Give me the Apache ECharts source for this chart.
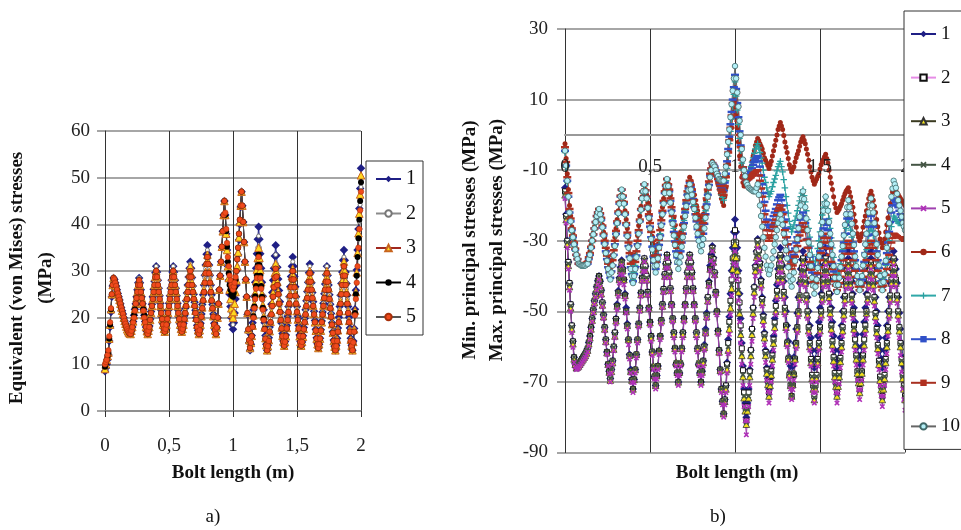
<!DOCTYPE html>
<html><head><meta charset="utf-8">
<script src="https://cdn.jsdelivr.net/npm/echarts/dist/echarts.min.js"></script>
<style>html,body{margin:0;padding:0;background:#fff}#c{width:961px;height:530px}</style>
</head><body><div id="c"></div>
<script>
// sample positions along the bolt (m)
const xs = [0,.0067,.0133,.02,.0267,.0333,.04,.0467,.0533,.06,.0667,.0733,.08,.0867,.0933,.1,.1067,.1133,.12,.1267,.1333,.14,.1467,.1533,.16,.1667,.1733,.18,.1867,.1933,
.2,.2067,.2133,.22,.2267,.2333,.24,.2467,.2533,.26,.2667,.2733,.28,.2867,.2933,.3,.3067,.3133,.32,.3267,.3333,.34,.3467,.3533,.36,.3667,.3733,.38,.3867,.3933,
.4,.4067,.4133,.42,.4267,.4333,.44,.4467,.4533,.46,.4667,.4733,.48,.4867,.4933,.5,.5067,.5133,.52,.5267,.5333,.54,.5467,.5533,.56,.5667,.5733,.58,.5867,.5933,
.6,.6067,.6133,.62,.6267,.6333,.64,.6467,.6533,.66,.6667,.6733,.68,.6867,.6933,.7,.7067,.7133,.72,.7267,.7333,.74,.7467,.7533,.76,.7667,.7733,.78,.7867,.7933,
.8,.8067,.8133,.82,.8267,.8333,.84,.8467,.8533,.86,.8667,.8733,.88,.8867,.8933,.9,.9067,.9133,.92,.9267,.9333,.94,.9467,.9533,.96,.9667,.9733,.98,.9867,.9933,
1,1.0067,1.0133,1.02,1.0267,1.0333,1.04,1.0467,1.0533,1.06,1.0667,1.0733,1.08,1.0867,1.0933,1.1,1.1067,1.1133,1.12,1.1267,1.1333,1.14,1.1467,1.1533,1.16,1.1667,1.1733,1.18,1.1867,1.1933,
1.2,1.2067,1.2133,1.22,1.2267,1.2333,1.24,1.2467,1.2533,1.26,1.2667,1.2733,1.28,1.2867,1.2933,1.3,1.3067,1.3133,1.32,1.3267,1.3333,1.34,1.3467,1.3533,1.36,1.3667,1.3733,1.38,1.3867,1.3933,
1.4,1.4067,1.4133,1.42,1.4267,1.4333,1.44,1.4467,1.4533,1.46,1.4667,1.4733,1.48,1.4867,1.4933,1.5,1.5067,1.5133,1.52,1.5267,1.5333,1.54,1.5467,1.5533,1.56,1.5667,1.5733,1.58,1.5867,1.5933,
1.6,1.6067,1.6133,1.62,1.6267,1.6333,1.64,1.6467,1.6533,1.66,1.6667,1.6733,1.68,1.6867,1.6933,1.7,1.7067,1.7133,1.72,1.7267,1.7333,1.74,1.7467,1.7533,1.76,1.7667,1.7733,1.78,1.7867,1.7933,
1.8,1.8067,1.8133,1.82,1.8267,1.8333,1.84,1.8467,1.8533,1.86,1.8667,1.8733,1.88,1.8867,1.8933,1.9,1.9067,1.9133,1.92,1.9267,1.9333,1.94,1.9467,1.9533,1.96,1.9667,1.9733,1.98,1.9867,1.9933,
2];

const xTicks = [0, 0.5, 1, 1.5, 2];
const xTickLabels = ['0','0,5','1','1,5','2'];
const leftNames = ['1','2','3','4','5'];
const rightNames = ['1','2','3','4','5','6','7','8','9','10'];

// a) Equivalent (von Mises) stresses, MPa
const L1 = [8.5,9.2,10,11,12,15,18,21.2,24.5,26.8,28.5,28.2,27.5,26.8,26,25.2,24.5,23.8,23,22.2,21.5,20.8,20,19.3,18.7,18.1,17.5,17.1,16.8,16.6,16.5,
17.2,18,19.2,20.5,21.8,23,24.5,26,27.5,28.5, 27.5,26,24.5,23,21.8,20.5,19.2,18,17.1,16.5,
17.2,18.2,19.7,21.3,22.9,24.5,26.1,27.8,29.6,31, 29.8,28,26.3,24.7,23.1,21.6,20.1,18.7,17.7,17,
17.7,18.7,20.1,21.6,23.1,24.7,26.3,28,29.8,31, 29.8,28,26.3,24.7,23.1,21.6,20.1,18.7,17.7,17,
17.7,18.8,20.4,22,23.6,25.3,27,28.7,30.6,32, 30.6,28.6,26.8,25,23.3,21.6,20,18.4,17.3,16.5,
17.4,18.8,20.8,22.8,24.9,27,29.1,31.3,33.6,35.5, 33.6,31.3,29.1,27,24.9,22.8,20.8,18.8,17.4,16.5,
17.9,20,23,26,29,32,35.2,38.5,42,45, 42,38,34.5,31,28,25,22.4,20,18.5,17.5,
18.9,21,24,27,30.2,33.5,36.7,40,43.7,47, 44,40.5,36.2,32,28.2,24.5,20.7,17,14.6,13,
14.3,16.2,18.9,21.7,24.6,27.6,30.6,33.7,36.8,39.5, 36.8,33.7,30.6,27.6,24.6,21.7,18.9,16.2,14.3,13,
14.1,15.7,18,20.4,22.9,25.4,28,30.6,33.2,35.5, 33.3,30.8,28.3,25.8,23.4,21.1,18.8,16.6,15,14,
14.9,16.3,18.3,20.3,22.4,24.5,26.6,28.8,31,33, 31,28.8,26.6,24.5,22.4,20.3,18.3,16.3,14.9,14,
14.8,16.1,17.9,19.8,21.7,23.6,25.6,27.6,29.6,31.5, 29.6,27.5,25.4,23.4,21.4,19.4,17.5,15.7,14.4,13.5,
14.3,15.6,17.4,19.3,21.2,23.1,25.1,27.2,29.2,31, 29.1,27,24.9,22.9,20.9,18.9,17,15.2,13.9,13,
14.1,15.6,17.8,20.1,22.4,24.8,27.3,29.8,32.3,34.5, 32.3,29.8,27.3,24.8,22.4,20.1,17.8,15.6,14.1,13,
15,17.7,21.8,25.9,30.2,34.5,39,43.4,47.7,52];
const L2 = [9,9.7,10.5,11.5,12.5,15.5,18.5,21.8,25,27,28.5,28.2,27.5,26.8,26,25.2,24.5,23.8,23,22.2,21.5,20.8,20,19.3,18.7,18.1,17.5,17.1,16.8,16.6,16.5,
17.2,18,19.2,20.5,21.8,23,24.5,26,27.5,28.5, 27.5,26,24.5,23,21.8,20.5,19.2,18,17.1,16.5,
17.2,18.2,19.7,21.3,22.9,24.5,26.1,27.8,29.6,31, 29.8,28,26.3,24.7,23.1,21.6,20.1,18.7,17.7,17,
17.7,18.7,20.1,21.6,23.1,24.7,26.3,28,29.8,31, 29.8,28,26.3,24.7,23.1,21.6,20.1,18.7,17.7,17,
17.7,18.7,20.2,21.8,23.4,25,26.6,28.3,30.1,31.5, 30.1,28.2,26.5,24.8,23.1,21.5,19.9,18.3,17.3,16.5,
17.4,18.7,20.6,22.6,24.5,26.5,28.5,30.5,32.7,34.5, 32.7,30.5,28.5,26.5,24.5,22.6,20.6,18.7,17.4,16.5,
17.9,20,23,26,29,32,35.2,38.5,42,45, 42,38,34.5,31,28.2,25.5,23.2,21,19.5,18.5,
19.9,22,25,28,31,34,37.2,40.5,44,47, 44,40.5,36.2,32,28.2,24.5,20.7,17,14.6,13,
14.2,15.9,18.4,21,23.7,26.5,29.2,32,35,37.5, 35,32,29.2,26.5,23.7,21,18.4,15.9,14.2,13,
14,15.5,17.6,19.8,22,24.3,26.5,28.8,31.3,33.5, 31.5,29.2,26.9,24.7,22.5,20.4,18.3,16.3,14.9,14,
14.9,16.2,18,19.9,21.9,23.9,25.9,27.9,30.1,32, 30.1,27.9,25.9,23.9,21.9,19.9,18,16.2,14.9,14,
14.8,16,17.8,19.6,21.5,23.4,25.3,27.3,29.3,31, 29.2,27.2,25.1,23.1,21.2,19.3,17.4,15.6,14.4,13.5,
14.3,15.6,17.4,19.3,21.2,23.1,25.1,27.2,29.2,31, 29.1,27,24.9,22.9,20.9,18.9,17,15.2,13.9,13,
14,15.4,17.5,19.6,21.8,24,26.2,28.5,30.8,33, 30.8,28.5,26.2,24,21.8,19.6,17.5,15.4,14,13,
14.8,17.5,21.2,25,29,33,36.8,40.5,44.2,48];
const L3 = [9,10,11,11.8,12.5,15.5,18.5,21.8,25,27,28.5,28.2,27.5,26.8,26,25.2,24.5,23.8,23,22.2,21.5,20.8,20,19.3,18.7,18.1,17.5,17.1,16.8,16.6,16.5,
17.2,18,19.2,20.5,21.8,23,24.2,25.5,27,28, 27,25.5,24.2,23,21.8,20.5,19.2,18,17.1,16.5,
17.2,18,19.5,21,22.5,24,25.5,27,28.7,30, 28.7,27,25.5,24,22.5,21,19.7,18.5,17.6,17,
17.6,18.5,19.7,21,22.5,24,25.5,27,28.7,30, 28.7,27,25.5,24,22.5,21,19.7,18.5,17.6,17,
17.6,18.5,20,21.5,23,24.5,26,27.5,29.4,31, 29.4,27.5,26,24.5,23,21.5,20,18.5,17.3,16.5,
17.3,18.5,20.3,22.2,24.1,26,27.9,29.8,31.8,33.5, 31.8,29.8,27.9,26,24.1,22.2,20.3,18.5,17.3,16.5,
17.9,20,23,26,29,32,35.2,38.5,42,45, 42,38,34.5,31,28.5,26,24,22,20.8,20,
21.2,23,25.5,28,31,34,37.2,40.5,44,47, 44,40.5,36.2,32,28.2,24.5,21,17.5,15.2,13.5,
14.6,16.1,18.3,20.5,22.9,25.3,27.8,30.3,32.8,35, 32.8,30.2,27.6,25.1,22.7,20.3,17.9,15.6,14.1,13,
13.9,15.2,17.1,19.1,21.1,23.2,25.3,27.4,29.6,31.5, 29.8,27.7,25.6,23.6,21.7,19.8,17.9,16.1,14.9,14,
14.8,16,17.8,19.6,21.4,23.3,25.1,26.9,28.9,30.5, 28.9,26.9,25.1,23.3,21.4,19.6,17.8,16,14.8,14,
14.8,15.9,17.6,19.3,21,22.8,24.6,26.5,28.4,30, 28.4,26.4,24.5,22.6,20.8,19,17.2,15.5,14.3,13.5,
14.3,15.5,17.2,19,20.8,22.6,24.5,26.4,28.4,30, 28.3,26.3,24.3,22.4,20.5,18.6,16.8,15,13.8,13,
14,15.3,17.3,19.3,21.4,23.5,25.6,27.8,30,32, 30,27.8,25.6,23.5,21.4,19.3,17.3,15.3,14,13,
14.8,17.5,21.5,25.5,29.7,33.9,38.1,42.3,46.4,50.5];
const L4 = [9.5,10.2,11,11.8,12.5,15.5,18.5,21.8,25,27,28.5,28.2,27.5,26.8,26,25.2,24.5,23.8,23,22.2,21.5,20.8,20,19.3,18.7,18.1,17.5,17.1,16.8,16.6,16.5,
17.2,18,19.2,20.5,21.8,23,24.2,25.5,27,28, 27,25.5,24.2,23,21.8,20.5,19.2,18,17.1,16.5,
17.2,18,19.5,21,22.5,24,25.5,27,28.7,30, 28.7,27,25.5,24,22.5,21,19.7,18.5,17.6,17,
17.6,18.5,19.7,21,22.5,24,25.5,27,28.7,30, 28.7,27,25.5,24,22.5,21,19.7,18.5,17.6,17,
17.6,18.5,19.7,21,22.5,24,25.5,27,28.7,30, 28.7,27,25.5,24,22.5,21,19.5,18,17.1,16.5,
17.3,18.5,20.2,22,23.7,25.5,27.5,29.5,31.5,33, 31.5,29.5,27.5,25.5,23.7,22,20.2,18.5,17.3,16.5,
17.9,20,23,26,29,32,35.2,38.5,42,45, 42,38.5,35.2,32,29.5,27,26,25,24.7,24.5,
25.3,26.5,28.2,30,32.5,35,38,41,44,47, 44,40.5,36.2,32,28.2,24.5,21,17.5,15.2,13.5,
14.6,16,18.1,20.3,22.4,24.6,26.8,29,31.3,33.5, 31.3,29,26.8,24.5,22.1,19.8,17.6,15.5,14.1,13,
13.9,15,17,19,20.7,22.5,24.5,26.5,28.5,30.5, 28.8,27,25,23,21.2,19.5,17.7,16,14.9,14,
14.8,16,17.7,19.5,21.2,23,24.7,26.5,28.2,30, 28.2,26.5,24.7,23,21.2,19.5,17.7,16,14.8,14,
14.8,16,17.5,19,20.7,22.5,24.2,26,27.7,29.5, 27.7,26,24.2,22.5,20.7,19,17.2,15.5,14.3,13.5,
14.3,15.5,17.2,19,20.7,22.5,24.2,26,27.7,29.5, 27.7,26,24,22,20.2,18.5,16.7,15,13.8,13,
13.9,15,17,19,21,23,25,27,29,31, 29,27,25,23,21,19,17,15,13.9,13,
14.7,17,21,25,29,33,37,41,45,49];
const L5 = [10,10.5,11,12,13,16,19,22,25,27,28.5,28.2,27.5,26.8,26,25.2,24.5,23.8,23,22.2,21.5,20.8,20,19.3,18.7,18.1,17.5,17.1,16.8,16.6,16.5,
17.2,18,19,20,21.5,23,24.2,25.5,27,28, 27,25.5,24.2,23,21.5,20,19,18,17.1,16.5,
17.2,18,19.5,21,22.5,24,25.5,27,28.7,30, 28.7,27,25.5,24,22.5,21,19.7,18.5,17.6,17,
17.6,18.5,19.7,21,22.5,24,25.5,27,28.7,30, 28.7,27,25.5,24,22.5,21,19.7,18.5,17.6,17,
17.6,18.5,19.7,21,22.5,24,25.5,27,28.7,30, 28.7,27,25.5,24,22.5,21,19.5,18,17.1,16.5,
17.3,18.5,20.2,22,23.7,25.5,27.5,29.5,31.5,33, 31.5,29.5,27.5,25.5,23.7,22,20.2,18.5,17.3,16.5,
17.9,20,23,26,29,32,35.2,38.5,42,45, 42.5,39,36,33,31,29,28,27,26.5,26,
26.7,27.5,28.7,30,32.5,35,38,41,44,47, 44,40.5,36.2,32,28.2,24.5,21,17.5,15.2,13.5,
14.6,16,18,20,22,24,26.2,28.5,30.8,33, 30.8,28.5,26.2,24,21.7,19.5,17.5,15.5,14.1,13,
13.9,15,17,19,20.7,22.5,24.5,26.5,28.5,30.5, 28.8,27,25,23,21.2,19.5,17.7,16,14.9,14,
14.8,16,17.7,19.5,21.2,23,24.7,26.5,28.2,30, 28.2,26.5,24.7,23,21.2,19.5,17.7,16,14.8,14,
14.8,16,17.5,19,20.7,22.5,24.2,26,27.7,29.5, 27.7,26,24.2,22.5,20.7,19,17.2,15.5,14.3,13.5,
14.3,15.5,17.2,19,20.7,22.5,24.2,26,27.7,29.5, 27.7,26,24,22,20.2,18.5,16.7,15,13.8,13,
13.9,15,17,19,21,23,25,27,29,31, 29,27,25,23,21,19,17,15,13.9,13,
14.7,17,20.5,24,27.5,31,35,39,43,47];

// b) Min. principal stresses (1-5) and Max. principal stresses (6-10), MPa
const R1 = [-15,-22.5,-30,-36,-42,-48,-54,-58.5,-63,-64.8,-65.5,-65.3,-65,-64.5,-64,-63.5,-63,-62.5,-62,-61.3,-60.5,-58.8,-57,-54.5,-52,-49.5,-47,-45,-43,-41.3,-40,
-41.5,-44,-47.5,-51,-54.5,-58,-61.5,-65,-67,-69, -66.5,-64,-60,-56,-52,-48,-44.2,-40.5,-37.5,-35.5,
-37.8,-41,-45,-49,-53.5,-58,-62.2,-66.5,-69.3,-72, -69.3,-66.5,-62.2,-58,-53.5,-49,-44.7,-40.5,-37.3,-35,
-37.2,-40,-44.5,-49,-53,-57,-61.5,-66,-68.5,-71, -68.2,-65.5,-61.2,-57,-52.5,-48,-43.7,-39.5,-36.5,-34,
-36.2,-39,-43.5,-48,-52,-56,-60.5,-65,-67.5,-70, -67.5,-65,-60.5,-56,-52,-48,-43.5,-39,-36.2,-34,
-36.2,-39,-43.5,-48,-52,-56,-60.5,-65,-67.5,-70, -67,-64,-59.5,-55,-50.5,-46,-41.5,-37,-33.8,-31.5,
-34.8,-39,-44.5,-50,-55.5,-61,-66.5,-72,-75.5,-79, -75,-71,-64.5,-58,-51.5,-45,-38.5,-32,-27.5,-24,
-27.5,-32,-38.5,-45,-52,-59,-65.5,-72,-76,-80, -76,-72,-66.5,-61,-55,-49,-43,-37,-33,-29.5,
-32.5,-36,-41,-46,-51,-56,-61,-66,-69,-72, -69,-66,-61.5,-57,-52,-47,-42.5,-38,-34.7,-32,
-34.3,-37,-41.5,-46,-50,-54,-58.5,-63,-65.5,-68, -65.5,-63,-59,-55,-50.5,-46,-42,-38,-35.3,-33,
-35.3,-38,-42,-46,-50,-54,-57.5,-61,-63.5,-66, -63.5,-61,-57,-53,-49,-45,-41,-37,-34.3,-32,
-34.3,-37,-41,-45,-49,-53,-57,-61,-63.5,-66, -63.5,-61,-57.5,-54,-50,-46,-42,-38,-35.3,-33,
-35.3,-38,-41.5,-45,-49,-53,-56.5,-60,-62.5,-65, -62.5,-60,-56.5,-53,-49,-45,-41.5,-38,-35.3,-33,
-35.3,-38,-42,-46,-50,-54,-57.5,-61,-63.5,-66, -63.5,-61,-57.5,-54,-50,-46,-42,-38,-35.3,-33,
-35.3,-38,-42,-46,-50.5,-55,-59,-63,-65.5,-68];
const R2 = [-16,-23,-30,-36,-42,-48,-54,-58.5,-63,-64.8,-65.5,-65.3,-65,-64.5,-64,-63.5,-63,-62.5,-62,-61.3,-60.5,-58.8,-57,-54.5,-52,-49.5,-47,-45,-43,-41.3,-40,
-41.5,-44,-47.5,-51,-54.5,-58,-61.5,-65,-67,-69, -66.5,-64,-60,-56,-52.2,-48.5,-44.7,-41,-38.2,-36,
-38.2,-41,-45.5,-50,-54,-58,-62.5,-67,-69.5,-72, -69.3,-66.5,-62.2,-58,-53.5,-49,-44.7,-40.5,-37.3,-35,
-37.2,-40,-44.5,-49,-53,-57,-61.5,-66,-68.5,-71, -68.2,-65.5,-61.2,-57,-52.5,-48,-43.7,-39.5,-36.5,-34,
-36.2,-39,-43.5,-48,-52,-56,-60.5,-65,-67.5,-70, -67.5,-65,-60.5,-56,-52,-48,-43.5,-39,-36.2,-34,
-36.2,-39,-43.5,-48,-52,-56,-60.5,-65,-67.5,-70, -67,-64,-60,-56,-51,-46,-42,-38,-34.8,-32,
-35.2,-39,-44.5,-50,-55.5,-61,-66.5,-72,-75.5,-79, -75,-71,-65,-59,-53,-47,-41,-35,-30.5,-27,
-30.5,-35,-41.2,-47.5,-54,-60.5,-66.7,-73,-77,-81, -77,-73,-67,-61,-55,-49,-43.2,-37.5,-33.3,-30,
-32.8,-36.5,-41.5,-46.5,-51.5,-56.5,-61.5,-66.5,-69.7,-73, -70,-67,-62.5,-58,-53.2,-48.5,-44.2,-40,-36.7,-34,
-36.7,-40,-44.5,-49,-54,-59,-63.5,-68,-71,-74, -71,-68,-63.5,-59,-54.5,-50,-45.5,-41,-37.7,-35,
-37.7,-41,-45.5,-50,-54.5,-59,-63.5,-68,-71,-74, -71,-68,-63.5,-59,-54.5,-50,-45.5,-41,-37.7,-35,
-37.5,-40.5,-45,-49.5,-54,-58.5,-63,-67.5,-70.2,-73, -70.2,-67.5,-63.2,-59,-54.5,-50,-45.7,-41.5,-38.5,-36,
-38.2,-41,-45.5,-50,-54,-58,-62.5,-67,-69.5,-72, -69.5,-67,-62.5,-58,-54,-50,-45.5,-41,-38.2,-36,
-38.5,-41.5,-46,-50.5,-55,-59.5,-64,-68.5,-71.2,-74, -71,-68,-63.5,-59,-54.5,-50,-45.5,-41,-37.7,-35,
-37.7,-41,-45.5,-50,-54.5,-59,-63.5,-68,-71,-74];
const R3 = [-17,-24,-31,-37,-43,-49,-55,-59.2,-63.5,-65,-66,-65.8,-65.5,-65,-64.5,-64,-63.5,-63,-62.5,-61.8,-61,-59.2,-57.5,-55,-52.5,-50,-47.5,-45.5,-43.5,-42,-40.5,
-42.7,-45,-48.2,-51.5,-55,-58.5,-61.7,-65,-67.2,-69.5, -67,-64.5,-60.7,-57,-52.7,-48.5,-44.7,-41,-38.5,-36,
-38.5,-41,-45.5,-50,-54,-58,-62.5,-67,-69.5,-72, -69.3,-66.5,-62.2,-58,-53.7,-49.5,-45.2,-41,-38.2,-35.5,
-38.2,-41,-45,-49,-53.2,-57.5,-61.5,-65.5,-68.2,-71, -68.2,-65.5,-61.2,-57,-52.7,-48.5,-44.2,-40,-37.2,-34.5,
-37.2,-40,-44,-48,-52.2,-56.5,-60.5,-64.5,-67.2,-70, -67.2,-64.5,-60.5,-56.5,-52.2,-48,-44,-40,-37.2,-34.5,
-37.2,-40,-44,-48,-52.2,-56.5,-60.5,-64.5,-67.2,-70, -67.2,-64.5,-60.2,-56,-51.5,-47,-42.5,-38,-35.2,-32.5,
-36,-39.5,-44.7,-50,-55.7,-61.5,-66.7,-72,-75.5,-79, -75.5,-72,-66.5,-61,-55,-49,-43.5,-38,-34.5,-31,
-34.7,-38.5,-44.5,-50.5,-56.5,-62.5,-68.5,-74.5,-78.2,-82, -78.2,-74.5,-68.5,-62.5,-56.5,-50.5,-44.5,-38.5,-34.7,-31,
-34.2,-37.5,-42.5,-47.5,-52.5,-57.5,-62.5,-67.5,-70.7,-74, -71,-68,-63.5,-59,-54.5,-50,-45.5,-41,-38,-35,
-38,-41,-45.5,-50,-54.5,-59,-63.5,-68,-71,-74, -70.7,-67.5,-63.5,-59.5,-55,-50.5,-46,-41.5,-38.7,-36,
-39,-42,-46.5,-51,-55.5,-60,-64.5,-69,-72,-75, -72,-69,-64.5,-60,-55.5,-51,-46.5,-42,-39,-36,
-38.7,-41.5,-46,-50.5,-55,-59.5,-64,-68.5,-71.2,-74, -71.2,-68.5,-64.2,-60,-55.5,-51,-46.7,-42.5,-39.7,-37,
-39.7,-42.5,-46.5,-50.5,-55,-59.5,-63.5,-67.5,-70.2,-73, -70.2,-67.5,-63.5,-59.5,-55,-50.5,-46.5,-42.5,-39.7,-37,
-39.7,-42.5,-47,-51.5,-56,-60.5,-65,-69.5,-72.2,-75, -72,-69,-64.5,-60,-55.5,-51,-46.5,-42,-39,-36,
-39,-42,-46.5,-51,-55.5,-60,-64.5,-69,-72,-75];
const R4 = [-16.5,-23.5,-30.5,-36.5,-42.5,-48.5,-54.5,-58.7,-63,-64.3,-65.5,-65.3,-65,-64.5,-64,-63.5,-63,-62.5,-62,-61.3,-60.5,-58.8,-57,-54.5,-52,-49.5,-47,-45,-43,-41.5,-40,
-42.2,-44.5,-47.7,-51,-54.5,-58,-61.5,-65,-67,-69, -66.5,-64,-60.2,-56.5,-52.5,-48.5,-44.7,-41,-38.5,-36,
-38.5,-41,-45.5,-50,-54,-58,-62.5,-67,-69.5,-72, -69.3,-66.5,-62.2,-58,-53.5,-49,-44.7,-40.5,-38,-35.5,
-38,-40.5,-44.7,-49,-53,-57,-61.2,-65.5,-68.2,-71, -68.2,-65.5,-61.2,-57,-52.5,-48,-44,-40,-37.2,-34.5,
-37,-39.5,-43.7,-48,-52,-56,-60.2,-64.5,-67.2,-70, -67.2,-64.5,-60.2,-56,-52,-48,-43.7,-39.5,-37,-34.5,
-37,-39.5,-43.7,-48,-52,-56,-60.2,-64.5,-67.2,-70, -67,-64,-59.7,-55.5,-51,-46.5,-42.2,-38,-35.2,-32.5,
-36,-39.5,-44.7,-50,-55.5,-61,-66.5,-72,-75.5,-79, -75.2,-71.5,-65.7,-60,-54,-48,-42.5,-37,-33.5,-30,
-34,-38,-44,-50,-56,-62,-68,-74,-77.7,-81.5, -77.7,-74,-68,-62,-56,-50,-44,-38,-34.2,-30.5,
-33.7,-37,-42,-47,-52,-57,-62,-67,-70.2,-73.5, -70.5,-67.5,-63,-58.5,-54,-49.5,-45,-40.5,-37.5,-34.5,
-37.5,-40.5,-45,-49.5,-54,-58.5,-63,-67.5,-70.7,-74, -70.7,-67.5,-63.2,-59,-54.5,-50,-45.7,-41.5,-38.5,-35.5,
-38.5,-41.5,-46,-50.5,-55,-59.5,-64,-68.5,-71.5,-74.5, -71.5,-68.5,-64,-59.5,-55,-50.5,-46,-41.5,-38.5,-35.5,
-38.5,-41.5,-45.7,-50,-54.5,-59,-63.5,-68,-70.7,-73.5, -70.7,-68,-63.7,-59.5,-55,-50.5,-46.2,-42,-39.2,-36.5,
-39.2,-42,-46.2,-50.5,-54.7,-59,-63,-67,-69.7,-72.5, -69.7,-67,-63,-59,-54.7,-50.5,-46.2,-42,-39.2,-36.5,
-39.2,-42,-46.5,-51,-55.5,-60,-64.5,-69,-71.7,-74.5, -71.5,-68.5,-64,-59.5,-55,-50.5,-46,-41.5,-38.5,-35.5,
-38.5,-41.5,-46,-50.5,-55,-59.5,-64,-68.5,-71.5,-74.5];
const R5 = [-18,-25,-32,-38,-44,-50,-56,-60.2,-64.5,-65.8,-66.5,-66.3,-66,-65.5,-65,-64.5,-64,-63.5,-63,-62.3,-61.5,-59.8,-58,-55.5,-53,-50.5,-48,-46,-44,-42.5,-41,
-43.2,-45.5,-48.7,-52,-55.5,-59,-62.2,-65.5,-67.7,-70, -67.5,-65,-61.2,-57.5,-53.5,-49.5,-45.7,-42,-39.5,-37,
-39.7,-42.5,-46.5,-50.5,-55,-59.5,-63.5,-67.5,-70.2,-73, -70.2,-67.5,-63.2,-59,-54.5,-50,-45.7,-41.5,-38.7,-36,
-38.7,-41.5,-45.5,-49.5,-54,-58.5,-62.5,-66.5,-69.2,-72, -69.2,-66.5,-62.2,-58,-53.5,-49,-44.7,-40.5,-37.7,-35,
-37.7,-40.5,-44.5,-48.5,-53,-57.5,-61.5,-65.5,-68.2,-71, -68.2,-65.5,-61.5,-57.5,-53,-48.5,-44.5,-40.5,-37.7,-35,
-37.7,-40.5,-44.5,-48.5,-53,-57.5,-61.5,-65.5,-68.2,-71, -68.2,-65.5,-61,-56.5,-52,-47.5,-43,-38.5,-35.7,-33,
-36.5,-40,-45.5,-51,-56.5,-62,-67.5,-73,-76.5,-80, -76.5,-73,-67.5,-62,-56.5,-51,-45.5,-40,-36.5,-33,
-37,-41,-47,-53,-59,-65,-71,-77,-81,-85, -81,-77,-71,-65,-58.5,-52,-46,-40,-36,-32,
-35.2,-38.5,-43.5,-48.5,-54,-59.5,-64.5,-69.5,-72.7,-76, -73,-70,-65.5,-61,-56,-51,-46.5,-42,-39,-36,
-39,-42,-46.5,-51,-55.5,-60,-64.5,-69,-72,-75, -72.2,-69.5,-65,-60.5,-56,-51.5,-47,-42.5,-39.7,-37,
-40,-43,-47.5,-52,-56.5,-61,-65.5,-70,-73,-76, -73,-70,-65.5,-61,-56.5,-52,-47.5,-43,-40,-37,
-40,-43,-47.5,-52,-56.5,-61,-65.5,-70,-73,-76, -73.2,-70.5,-66,-61.5,-57,-52.5,-48,-43.5,-40.7,-38,
-40.7,-43.5,-47.7,-52,-56.5,-61,-65.2,-69.5,-72.2,-75, -72.2,-69.5,-65.2,-61,-56.5,-52,-47.7,-43.5,-40.7,-38,
-41,-44,-48.5,-53,-57.5,-62,-66.5,-71,-74,-77, -74,-71,-66.5,-62,-57,-52,-47.5,-43,-40,-37,
-40,-43,-47.7,-52.5,-57.5,-62.5,-67.2,-72,-75,-78];
const R6 = [-2.5,-6.7,-11,-15.5,-20,-23,-26,-28,-30,-31.7,-33.5,-34.8,-36,-36.5,-37,-37,-37,-36.8,-36.5,-36,-35.5,-34.2,-33,-31.2,-29.5,-27.7,-26,-24.5,-23,-22,-21,
-22.2,-23.5,-25.5,-27.5,-29.2,-31,-33,-35,-36.2,-37.5, -35.7,-34,-31.5,-29,-26.5,-24,-21.5,-19,-17.2,-15.5,
-17.2,-19,-21.5,-24,-26.5,-29,-31.5,-34,-35.7,-37.5, -35.7,-34,-31.2,-28.5,-25.7,-23,-20.2,-17.5,-15.7,-14,
-15.5,-17,-19.2,-21.5,-24,-26.5,-28.7,-31,-32.5,-34, -32.5,-31,-28.5,-26,-23.2,-20.5,-18,-15.5,-14,-12.5,
-13.7,-15,-17.2,-19.5,-21.5,-23.5,-25.7,-28,-29.2,-30.5, -29,-27.5,-25.5,-23.5,-21.2,-19,-17,-15,-13.5,-12,
-13,-14,-15.5,-17,-18.5,-20,-21.5,-23,-24,-25, -23.7,-22.5,-20.5,-18.5,-16.2,-14,-12,-10,-8.7,-7.5,
-8.5,-9.5,-11,-12.5,-14,-15.5,-16.7,-18,-19,-20, -17.5,-15,-11.5,-8,-4.5,-1,2,5,7.5,10,
6,2,-2,-6,-9,-12,-13.5,-14.5,-14.5,-14, -13,-12,-10.5,-9,-7.5,-6,-4.5,-3,-2,-1,
-1.7,-2.5,-3.2,-4,-5.2,-6.5,-7.2,-8,-8.7,-9.5, -8.5,-7.5,-6,-4.5,-3,-1.5,0,1.5,2.5,3.5,
2.5,1.5,-0.2,-2,-3.5,-5,-6.7,-8.5,-9.5,-10.5, -9.7,-9,-7.7,-6.5,-5.5,-4.5,-3.2,-2,-1.2,-0.5,
-1.5,-2.5,-4,-5.5,-7.2,-9,-10.5,-12,-13,-14, -13.2,-12.5,-11.7,-11,-9.7,-8.5,-7.7,-7,-6.2,-5.5,
-6.7,-8,-10,-12,-13.7,-15.5,-17.5,-19.5,-20.7,-22, -21.5,-21,-20.2,-19.5,-18.5,-17.5,-16.7,-16,-15.5,-15,
-16.2,-17.5,-19,-20.5,-22.5,-24.5,-26.2,-28,-29,-30, -29,-28,-26.2,-24.5,-23,-21.5,-19.7,-18,-17,-16,
-17.2,-18.5,-20.2,-22,-24,-26,-27.7,-29.5,-30.7,-32, -30.7,-29.5,-27.5,-25.5,-23.5,-21.5,-19.5,-17.5,-16.2,-15,
-15.5,-16,-16.5,-17,-17.5,-18,-18.5,-19,-19.5,-20];
const R7 = [-5,-9.2,-13.5,-17.7,-22,-24.7,-27.5,-29.5,-31.5,-33,-34.5,-35.5,-36.5,-36.7,-37,-37,-37,-37,-37,-36.7,-36.5,-35.2,-34,-32.2,-30.5,-28.7,-27,-25.2,-23.5,-22.5,-21.5,
-23,-24.5,-26.5,-28.5,-31,-33.5,-35.5,-37.5,-39,-40.5, -38.7,-37,-34.2,-31.5,-28.5,-25.5,-22.5,-19.5,-17.7,-16,
-18,-20,-22.7,-25.5,-28.5,-31.5,-34.5,-37.5,-39.2,-41, -39,-37,-34,-31,-27.7,-24.5,-21.5,-18.5,-16.5,-14.5,
-16.2,-18,-20.5,-23,-26,-29,-31.5,-34,-35.7,-37.5, -35.7,-34,-31,-28,-25.2,-22.5,-19.5,-16.5,-14.7,-13,
-14.7,-16.5,-19,-21.5,-24,-26.5,-29,-31.5,-33.2,-35, -33.5,-32,-29.5,-27,-24.2,-21.5,-19,-16.5,-15,-13.5,
-14.7,-16,-18,-20,-21.7,-23.5,-25.5,-27.5,-28.7,-30, -28.2,-26.5,-24,-21.5,-19,-16.5,-14,-11.5,-9.7,-8,
-8.7,-9.5,-10.7,-12,-13.2,-14.5,-15.7,-17,-17.7,-18.5, -15.7,-13,-9.5,-6,-2.5,1,4.5,8,11.5,15,
11,7,3,-1,-4.5,-8,-10,-12,-12.5,-13, -12.2,-11.5,-10.2,-9,-7.7,-6.5,-5.2,-4,-3.2,-2.5,
-3.7,-5,-6.5,-8,-10,-12,-13.5,-15,-16.2,-17.5, -16.7,-16,-14.7,-13.5,-12.5,-11.5,-10.2,-9,-8.2,-7.5,
-9,-10.5,-12.7,-15,-17.5,-20,-22.2,-24.5,-26,-27.5, -26.5,-25.5,-24.2,-23,-21.5,-20,-18.7,-17.5,-16.5,-15.5,
-17.2,-19,-21.5,-24,-26.5,-29,-31.5,-34,-35.7,-37.5, -36,-34.5,-32.2,-30,-27.5,-25,-22.7,-20.5,-19,-17.5,
-19.2,-21,-23.7,-26.5,-29.2,-32,-34.7,-37.5,-39.2,-41, -39.7,-38.5,-36.5,-34.5,-32.5,-30.5,-28.5,-26.5,-25.2,-24,
-25.5,-27,-29,-31,-33.5,-36,-38,-40,-41.5,-43, -41.7,-40.5,-38.5,-36.5,-34.5,-32.5,-30.5,-28.5,-27.2,-26,
-27.2,-28.5,-30.2,-32,-34,-36,-37.7,-39.5,-40.7,-42, -40.5,-39,-37,-35,-32.5,-30,-28,-26,-24.5,-23,
-23.5,-24,-24.5,-25,-25,-25,-24.5,-24,-23.5,-23];
const R8 = [-4.5,-8.7,-13,-17.5,-22,-24.5,-27,-29,-31,-32.5,-34,-35.2,-36.5,-36.7,-37,-37,-37,-37,-37,-36.7,-36.5,-35.2,-34,-32,-30,-28.2,-26.5,-24.7,-23,-22,-21,
-22.5,-24,-26.2,-28.5,-30.7,-33,-35.2,-37.5,-39,-40.5, -38.7,-37,-34,-31,-28,-25,-22.2,-19.5,-17.5,-15.5,
-17.5,-19.5,-22.5,-25.5,-28.5,-31.5,-34.5,-37.5,-39.5,-41.5, -39.5,-37.5,-34.2,-31,-27.7,-24.5,-21.2,-18,-16,-14,
-15.7,-17.5,-20.2,-23,-26,-29,-31.7,-34.5,-36.2,-38, -36,-34,-31.2,-28.5,-25.2,-22,-19.2,-16.5,-14.5,-12.5,
-14.2,-16,-18.7,-21.5,-24.5,-27.5,-30.2,-33,-34.7,-36.5, -34.7,-33,-30.5,-28,-25,-22,-19.5,-17,-15.2,-13.5,
-14.7,-16,-18.2,-20.5,-22.5,-24.5,-26.7,-29,-30.2,-31.5, -29.7,-28,-25.2,-22.5,-19.7,-17,-14.2,-11.5,-9.7,-8,
-8.5,-9,-10,-11,-12,-13,-14,-15,-15.5,-16, -13.5,-11,-7.5,-4,-0.5,3,6.5,10,13.5,17,
13,9,5,1,-3,-7,-9.2,-11.5,-12.2,-13, -12.5,-12,-11.2,-10.5,-9.5,-8.5,-7.7,-7,-6.5,-6,
-7.5,-9,-11.5,-14,-16.5,-19,-21.5,-24,-25.5,-27, -26.2,-25.5,-24.2,-23,-22,-21,-19.7,-18.5,-17.7,-17,
-18.5,-20,-22,-24,-26.5,-29,-31,-33,-34.5,-36, -35,-34,-32.2,-30.5,-29,-27.5,-25.7,-24,-23,-22,
-23.5,-25,-27.2,-29.5,-32,-34.5,-36.7,-39,-40.5,-42, -40.7,-39.5,-37.2,-35,-33,-31,-28.7,-26.5,-25.2,-24,
-25.5,-27,-29.2,-31.5,-34,-36.5,-38.7,-41,-42.5,-44, -42.2,-40.5,-38,-35.5,-33,-30.5,-28,-25.5,-23.7,-22,
-23.7,-25.5,-28,-30.5,-33,-35.5,-38,-40.5,-42.2,-44, -42.5,-41,-38.5,-36,-33.5,-31,-28.5,-26,-24.5,-23,
-24.5,-26,-28.2,-30.5,-33,-35.5,-37.7,-40,-41.5,-43, -41.2,-39.5,-36.5,-33.5,-30.5,-27.5,-24.7,-22,-20,-18,
-18.5,-19,-19.7,-20.5,-21.5,-22.5,-23.2,-24,-24.5,-25];
const R9 = [-3.5,-7.7,-12,-16.5,-21,-23.7,-26.5,-28.5,-30.5,-32.2,-34,-35.2,-36.5,-36.7,-37,-37,-37,-36.7,-36.5,-36.2,-36,-34.7,-33.5,-31.7,-30,-28.2,-26.5,-24.7,-23,-22,-21,
-22.2,-23.5,-25.7,-28,-30,-32,-34.2,-36.5,-37.7,-39, -37.2,-35.5,-32.7,-30,-27.2,-24.5,-21.7,-19,-17.2,-15.5,
-17.2,-19,-22,-25,-27.7,-30.5,-33.5,-36.5,-38.2,-40, -38,-36,-33,-30,-27,-24,-21,-18,-16,-14,
-15.7,-17.5,-20,-22.5,-25,-27.5,-30,-32.5,-34.2,-36, -34.2,-32.5,-29.7,-27,-24.2,-21.5,-18.7,-16,-14.2,-12.5,
-14,-15.5,-18,-20.5,-23,-25.5,-28,-30.5,-32,-33.5, -32,-30.5,-28,-25.5,-23.2,-21,-18.5,-16,-14.5,-13,
-14.2,-15.5,-17,-18.5,-20.5,-22.5,-24.2,-26,-27,-28, -26.5,-25,-22.7,-20.5,-18,-15.5,-13.2,-11,-9.5,-8,
-8.7,-9.5,-10.5,-11.5,-12.5,-13.5,-14.5,-15.5,-16.2,-17, -14.5,-12,-8.5,-5,-1.5,2,5.5,9,12.5,16,
12,8,4,0,-3.5,-7,-9.2,-11.5,-12.2,-13, -12.7,-12.5,-12.2,-12,-11.5,-11,-10.7,-10.5,-10.2,-10,
-11.5,-13,-15.2,-17.5,-20,-22.5,-24.7,-27,-28.5,-30, -29.2,-28.5,-27.2,-26,-25,-24,-22.7,-21.5,-20.7,-20,
-21.2,-22.5,-24.7,-27,-29,-31,-33.2,-35.5,-36.7,-38, -37,-36,-34.5,-33,-31.5,-30,-28.5,-27,-26,-25,
-26.2,-27.5,-29.7,-32,-34,-36,-38.2,-40.5,-41.7,-43, -42,-41,-39.2,-37.5,-35.5,-33.5,-32,-30.5,-29.2,-28,
-29.2,-30.5,-32.2,-34,-36,-38,-39.7,-41.5,-42.7,-44, -43,-42,-40.2,-38.5,-37,-35.5,-33.7,-32,-31,-30,
-31,-32,-33.7,-35.5,-37,-38.5,-40.2,-42,-43,-44, -43,-42,-40.2,-38.5,-37,-35.5,-33.7,-32,-31,-30,
-31,-32,-33.7,-35.5,-37,-38.5,-40.2,-42,-43,-44, -42.7,-41.5,-39.7,-38,-36,-34,-32.2,-30.5,-29.2,-28,
-28.2,-28.5,-28.7,-29,-29,-29,-29.2,-29.5,-29.7,-30];
const R10 = [-4.5,-8.7,-13,-17.5,-22,-24.5,-27,-29,-31,-32.5,-34,-35.2,-36.5,-36.7,-37,-37,-37,-37,-37,-36.7,-36.5,-35.2,-34,-32,-30,-28.2,-26.5,-24.7,-23,-22,-21,
-22.5,-24,-26.2,-28.5,-31,-33.5,-35.7,-38,-39.5,-41, -39,-37,-34.2,-31.5,-28.2,-25,-22.2,-19.5,-17.5,-15.5,
-17.5,-19.5,-22.5,-25.5,-28.7,-32,-35,-38,-40,-42, -40,-38,-34.7,-31.5,-28,-24.5,-21.2,-18,-16,-14,
-16,-18,-20.7,-23.5,-26.5,-29.5,-32.5,-35.5,-37.2,-39, -37,-35,-32,-29,-25.7,-22.5,-19.5,-16.5,-14.5,-12.5,
-14.5,-16.5,-19.2,-22,-25.2,-28.5,-31.2,-34,-36,-38, -36.2,-34.5,-31.7,-29,-26,-23,-20.2,-17.5,-15.7,-14,
-15.5,-17,-19,-21,-23.5,-26,-28,-30,-31.5,-33, -31.2,-29.5,-26.5,-23.5,-20.5,-17.5,-14.7,-12,-10,-8,
-8.5,-9,-10,-11,-11.7,-12.5,-12.7,-13,-13,-13, -11,-9,-5.5,-2,1.5,5,8.7,12.5,16,19.5,
16,12,8,4,0,-4,-7,-10,-11.7,-13.5, -14.2,-15,-15.2,-15.5,-15.7,-16,-16,-16,-15,-14,
-17,-20,-23,-26,-29,-32,-34.5,-37,-38.2,-39.5, -38.2,-37,-35,-33,-31,-29,-27,-25,-23.7,-22.5,
-24,-25.5,-28,-30.5,-32.7,-35,-37.5,-40,-41.5,-43, -41,-39,-35.7,-32.5,-29.5,-26.5,-23.2,-20,-18,-16,
-18.2,-20.5,-23.7,-27,-30.5,-34,-37.2,-40.5,-42.7,-45, -43,-41,-37.7,-34.5,-31.2,-28,-24.7,-21.5,-19.5,-17.5,
-19.5,-21.5,-24.7,-28,-31,-34,-37.2,-40.5,-42.5,-44.5, -42.5,-40.5,-37.5,-34.5,-31.5,-28.5,-25.5,-22.5,-20.5,-18.5,
-20.5,-22.5,-25.2,-28,-31.2,-34.5,-37.2,-40,-42,-44, -42,-40,-37,-34,-31,-28,-25,-22,-20,-18,
-20,-22,-25,-28,-31,-34,-37,-40,-42,-44, -41.7,-39.5,-35.7,-32,-28.5,-25,-21.2,-17.5,-15.2,-13,
-14,-15,-16.7,-18.5,-20,-21.5,-23.2,-25,-26,-27];

const FONT = '"Liberation Serif", "Times New Roman", serif';
const X_PATH = 'path://M0,2L2,0L5,3L8,0L10,2L7,5L10,8L8,10L5,7L2,10L0,8L3,5Z';
const PLUS_PATH = 'path://M4,0H6V4H10V6H6V10H4V6H0V4H4Z';
const DASH_PATH = 'path://M0,0H10V3H0Z';

function mk(name, ys, xi, yi, st) {
  const data = [];
  for (let j = 0; j < xs.length && j < ys.length; j++) data.push([xs[j], ys[j]]);
  return {
    name: name, type: 'line', xAxisIndex: xi, yAxisIndex: yi, data: data,
    symbol: st.symbol, symbolSize: st.size, showAllSymbol: true,
    itemStyle: { color: st.fill, borderColor: st.border || st.fill, borderWidth: st.bw == null ? 0 : st.bw },
    lineStyle: { color: st.line, width: 1 },
    animation: false, silent: true, emphasis: { disabled: true }
  };
}

const leftStyles = [
  { symbol: 'diamond', size: 8.5, fill: '#1f1f85', line: '#1f1f85' },
  { symbol: 'circle', size: 4, fill: '#ffffff', border: '#777', bw: 1, line: '#8a8a8a' },
  { symbol: 'triangle', size: 7.5, fill: '#ffd820', border: '#c8641e', bw: 1, line: '#a0281e' },
  { symbol: 'circle', size: 6, fill: '#000000', line: '#000000' },
  { symbol: 'circle', size: 5.5, fill: '#f04a1c', border: '#a8300a', bw: 0.6, line: '#555555' }
];
const rightStyles = [
  { symbol: 'diamond', size: 8, fill: '#1f1f85', line: '#1f1f85' },
  { symbol: 'rect', size: 5, fill: '#ffffff', border: '#111', bw: 1, line: '#e68ce6' },
  { symbol: 'triangle', size: 6.5, fill: '#f2e21e', border: '#333', bw: 0.8, line: '#3a3a20' },
  { symbol: X_PATH, size: 5.5, fill: '#445544', line: '#445544' },
  { symbol: X_PATH, size: 5.5, fill: '#b030b8', line: '#a040b0' },
  { symbol: 'circle', size: 5, fill: '#a02818', line: '#a02818' },
  { symbol: PLUS_PATH, size: 6.5, fill: '#2aa0a0', line: '#30a8a8' },
  { symbol: DASH_PATH, size: [8, 2.5], fill: '#3050c8', line: '#3050c8' },
  { symbol: DASH_PATH, size: [8, 2.5], fill: '#b03020', line: '#a83020' },
  { symbol: 'circle', size: 5.5, fill: '#b4f0f8', border: '#406868', bw: 0.8, line: '#666666' }
];
const leftData = [L1, L2, L3, L4, L5];
const rightData = [R1, R2, R3, R4, R5, R6, R7, R8, R9, R10];

const series = [];
leftNames.forEach((n, i) => series.push(mk('a' + n, leftData[i], 0, 0, leftStyles[i])));
rightNames.forEach((n, i) => series.push(mk('b' + n, rightData[i], 1, 1, rightStyles[i])));

const axisLabelStyle = { fontFamily: FONT, fontSize: 19, color: '#222' };
const xFmt = v => xTickLabels[Math.round(v / 0.5)];

// right panel: y runs -90..30 over 423.5 px, the x axis sits at y = 0
const R_TOP = 29, R_H = 423.5, R_MIN = -90, R_MAX = 30;
const zeroOffset = -(R_H * (0 - R_MIN) / (R_MAX - R_MIN));

const titleGraphics = [
  { type: 'text', id: 't1', x: 32, y: 278, rotation: Math.PI / 2, z: 20,
    style: { text: 'Equivalent (von Mises) stresses\n(MPa)', font: 'bold 19px ' + FONT, fill: '#111',
      align: 'center', verticalAlign: 'middle', textAlign: 'center', textVerticalAlign: 'middle', lineHeight: 29 } },
  { type: 'text', id: 't2', x: 233, y: 473, z: 20,
    style: { text: 'Bolt length (m)', font: 'bold 19px ' + FONT, fill: '#111',
      align: 'center', verticalAlign: 'middle', textAlign: 'center', textVerticalAlign: 'middle' } },
  { type: 'text', id: 't3', x: 484, y: 240, rotation: Math.PI / 2, z: 20,
    style: { text: 'Min. principal stresses (MPa)\nMax. principal stresses (MPa)', font: 'bold 19px ' + FONT, fill: '#111',
      align: 'center', verticalAlign: 'middle', textAlign: 'center', textVerticalAlign: 'middle', lineHeight: 27 } },
  { type: 'text', id: 't4', x: 737, y: 473, z: 20,
    style: { text: 'Bolt length (m)', font: 'bold 19px ' + FONT, fill: '#111',
      align: 'center', verticalAlign: 'middle', textAlign: 'center', textVerticalAlign: 'middle' } },
  { type: 'text', id: 't5', x: 213, y: 517, z: 20,
    style: { text: 'a)', font: '19px ' + FONT, fill: '#111',
      align: 'center', verticalAlign: 'middle', textAlign: 'center', textVerticalAlign: 'middle' } },
  { type: 'text', id: 't6', x: 718, y: 517, z: 20,
    style: { text: 'b)', font: '19px ' + FONT, fill: '#111',
      align: 'center', verticalAlign: 'middle', textAlign: 'center', textVerticalAlign: 'middle' } }
];

const option = {
  backgroundColor: '#ffffff',
  animation: false,
  grid: [
    { left: 105, top: 131, width: 256, height: 280, containLabel: false, outerBoundsMode: 'none' },
    { left: 565, top: R_TOP, width: 340, height: R_H, containLabel: false, outerBoundsMode: 'none' }
  ],
  xAxis: [
    { gridIndex: 0, type: 'value', min: 0, max: 2, interval: 0.5,
      axisLine: { show: true, onZero: false, lineStyle: { color: '#888', width: 1.5 } },
      axisTick: { show: true, length: 6, lineStyle: { color: '#333' } },
      axisLabel: Object.assign({ formatter: xFmt, margin: 26 }, axisLabelStyle),
      splitLine: { show: true, lineStyle: { color: '#333', width: 1 } } },
    { gridIndex: 1, type: 'value', min: 0, max: 2, interval: 0.5, position: 'bottom', offset: zeroOffset,
      axisLine: { show: true, onZero: false, lineStyle: { color: '#999', width: 2 } },
      axisTick: { show: false }, axisLabel: { show: false },
      splitLine: { show: true, lineStyle: { color: '#333', width: 1 } } }
  ],
  yAxis: [
    { gridIndex: 0, type: 'value', min: 0, max: 60, interval: 10,
      axisLine: { show: true, lineStyle: { color: '#333', width: 1 } },
      axisTick: { show: true, length: 8, lineStyle: { color: '#888', width: 1.5 } },
      axisLabel: Object.assign({ margin: 15 }, axisLabelStyle),
      splitLine: { show: true, lineStyle: { color: '#888', width: 1.5 } } },
    { gridIndex: 1, type: 'value', min: R_MIN, max: R_MAX, interval: 20,
      axisLine: { show: true, lineStyle: { color: '#333', width: 1 } },
      axisTick: { show: true, length: 8, lineStyle: { color: '#888', width: 1.5 } },
      axisLabel: Object.assign({ margin: 17 }, axisLabelStyle),
      splitLine: { show: true, lineStyle: { color: '#888', width: 1.5 } } }
  ],
  legend: [
    { data: leftNames.map(n => 'a' + n), orient: 'vertical', left: 366, top: 161, z: 10,
      itemWidth: 25, itemHeight: 8, itemGap: 14.5, padding: [8, 7, 8, 9],
      borderColor: '#333', borderWidth: 1, backgroundColor: '#ffffff', selectedMode: false,
      formatter: n => n.slice(1),
      textStyle: { fontFamily: FONT, fontSize: 20, lineHeight: 20, color: '#111' } },
    { data: rightNames.map(n => 'b' + n), orient: 'vertical', left: 904, top: 11, z: 10, zlevel: 2,
      itemWidth: 25, itemHeight: 8, itemGap: 23.6, padding: [13, 30, 13, 6],
      borderColor: '#333', borderWidth: 1, backgroundColor: '#ffffff', selectedMode: false,
      formatter: n => n.slice(1),
      textStyle: { fontFamily: FONT, fontSize: 19, lineHeight: 20, color: '#111' } }
  ],
  graphic: titleGraphics,
  series: series
};

const chart = echarts.init(document.getElementById('c'), null, { renderer: 'canvas', width: 961, height: 530 });
chart.setOption(option);

// right panel tick labels sit just below the y = 0 axis line, drawn above the data
const tickGraphics = xTicks.map((v, i) => {
  const p = chart.convertToPixel({ gridIndex: 1 }, [v, 0]);
  return { type: 'text', id: 'xl' + i, x: p[0], y: p[1] + 32, z: 50, zlevel: 1,
    style: { text: xTickLabels[i], font: '19px ' + FONT, fill: '#222',
      align: 'center', verticalAlign: 'middle', textAlign: 'center', textVerticalAlign: 'middle' } };
});
chart.setOption({ graphic: titleGraphics.concat(tickGraphics) });
</script>
</body></html>
